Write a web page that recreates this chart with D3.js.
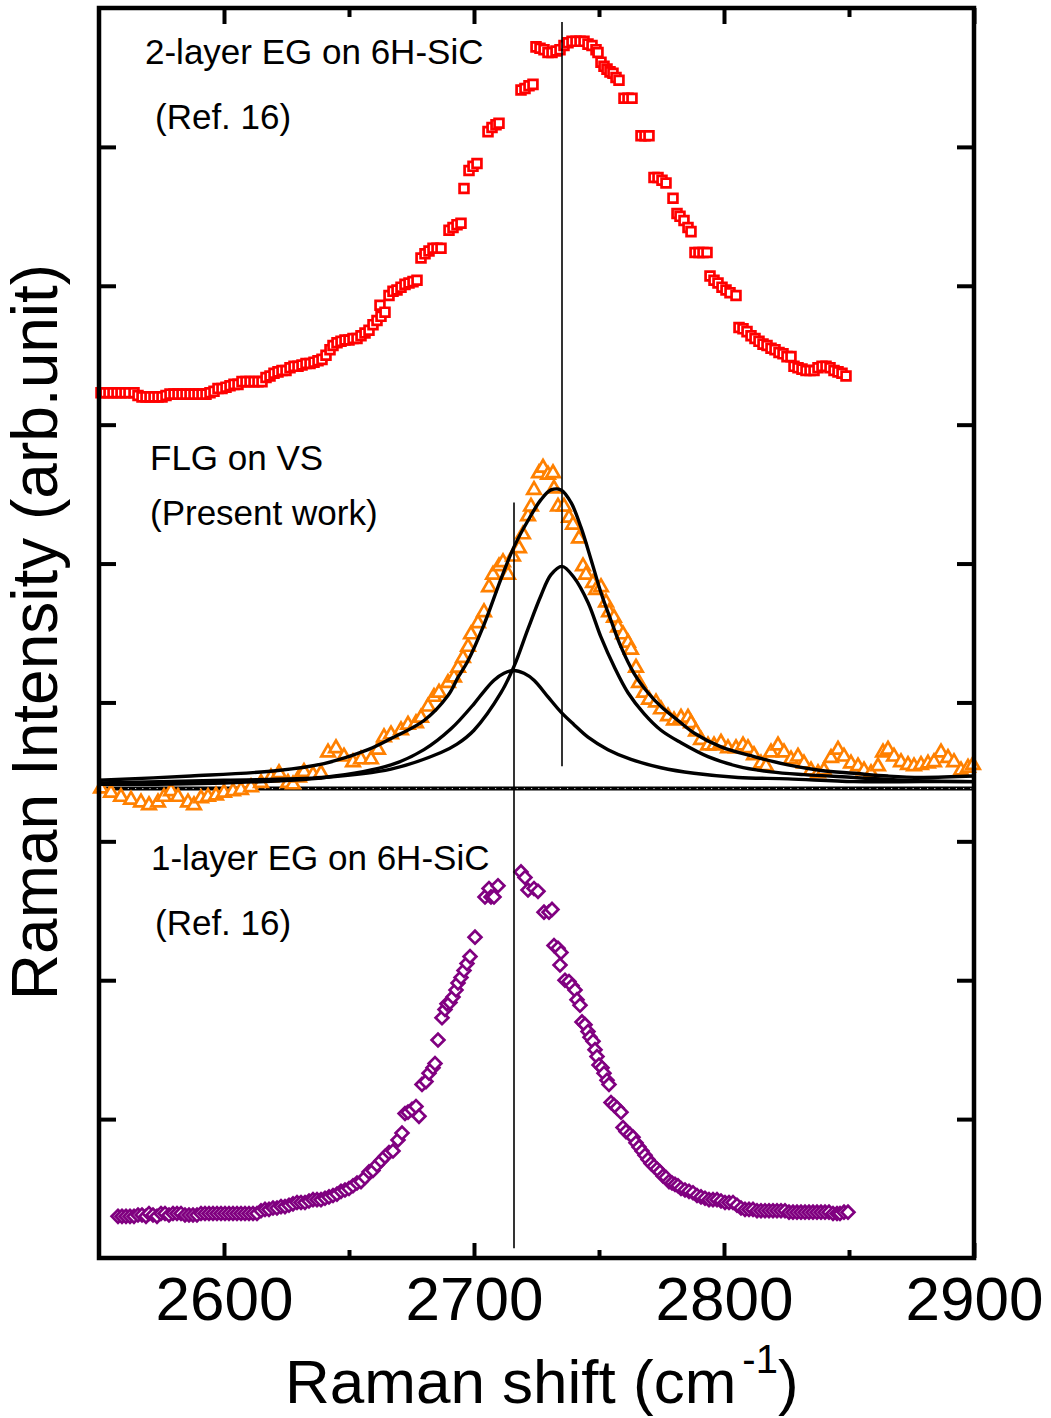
<!DOCTYPE html>
<meta charset="utf-8">
<style>
body { margin: 0; background: #fff; }
svg { display: block; background: #fff; }
text { font-family: "Liberation Sans", Arial, sans-serif; fill: #000; }
.frame { fill: none; stroke: #000; stroke-width: 4.5px; }
.fit { fill: none; stroke: #000; stroke-width: 3.4px; }
.vline { stroke: #000; stroke-width: 1.6px; }
.axis .domain { display: none; }
.axis line { stroke: #000; stroke-width: 4px; }
.axis text { font-size: 62px; font-family: "Liberation Sans", Arial, sans-serif; }
.label { font-size: 35px; }
</style>
<body>
<svg id="chart" width="1051" height="1418"></svg>

<script src="https://d3js.org/d3.v7.min.js"></script>
<script>

// ---------- data (Raman shift in cm-1, intensity in arb. units) ----------
var xMajor = [2600, 2700, 2800, 2900],
    xMinor = [2650, 2750, 2850],
    yTicks = [100, 200, 300, 400, 500, 600, 700, 800];

var labels = ["2-layer EG on 6H-SiC", "(Ref. 16)", "FLG on VS", "(Present work)", "1-layer EG on 6H-SiC", "(Ref. 16)"];

// 2-layer EG (red squares)
var bilayer = [[2550.8,623],[2552.4,623],[2554,623],[2555.6,623],[2557.2,623],[2558.8,623],[2560.4,623],[2562,623],[2564,623],
  [2565.6,621],[2567.2,620],[2568.8,620],[2570.4,620],[2572,620],[2573.6,620],[2575.2,620],[2576.8,621],[2578.4,622],[2580,622],
  [2581.6,622],[2583.2,622],[2584.8,622],[2586.4,622],[2588,622],[2589.6,622],[2591.2,622],[2592.8,622],[2594.4,623],[2596,624],
  [2597.6,626],[2599.2,626],[2600.8,627],[2602.4,628],[2604,629],[2605.6,629],[2607.2,631],[2608.8,631],[2610.4,631],[2612,631],
  [2613.6,631],[2615.2,631],[2616.8,634],[2618.4,635],[2620,637],[2621.6,638],[2623.2,639],[2624.8,639],[2626.4,641],[2628,642],
  [2629.6,642],[2631.2,643],[2632.8,644],[2634.4,644],[2636,645],[2637.6,646],[2639.2,647],[2640.8,650],[2642.4,654],[2643.6,657],
  [2645.2,659],[2646.8,660],[2648.4,661],[2650,661],[2651.6,662],[2653.2,662],[2654.8,664],[2656.4,666],[2658,668],[2659.6,672],
  [2661.2,675],[2662.4,686],[2662.8,678],[2664.4,681],[2666,693],[2667.6,696],[2669.2,697],[2670.8,699],[2672.4,701],[2674,702],
  [2675.6,703],[2677.2,704],[2678.8,720],[2680.4,723],[2682,725],[2683.6,727],[2685.2,727],[2686.8,727],[2690,740],[2691.6,742],
  [2693.2,744],[2694.8,745],[2696,770],[2698,783],[2699.6,786],[2701.2,788],[2705.6,811],[2707.2,814],[2708.8,816],[2710,817],
  [2718.8,841],[2720.4,842],[2722,844],[2723.6,845],[2724.8,872],[2726.4,871],[2728,870],[2729.6,868],[2731.2,868],[2732.8,869],
  [2734.4,870],[2736,873],[2737.6,875],[2739.2,876],[2740.8,876],[2742.4,876],[2744,876],[2745.6,874],[2747.2,873],[2748.8,870],
  [2749.6,868],[2750.8,861],[2752,858],[2753.2,856],[2754.4,854],[2755.6,853],[2756.8,850],[2758,848],[2760,835],[2761.6,835],
  [2763.2,835],[2766.8,808],[2768.4,808],[2770,808],[2772,778],[2773.6,778],[2775.2,776],[2776.8,774],[2779.6,763],[2781.2,752],
  [2782.4,750],[2784,747],[2785.6,742],[2786.8,739],[2788.4,724],[2790,724],[2791.6,724],[2793.2,724],[2794.4,707],[2796,704],
  [2797.6,702],[2799.2,699],[2800.8,697],[2802.4,695],[2804.8,693],[2806,670],[2807.6,669],[2809.2,667],[2810.8,664],[2812.4,662],
  [2814,660],[2815.6,658],[2817.2,657],[2818.8,655],[2820.4,654],[2822,652],[2823.6,651],[2825.2,649],[2826.8,649],[2828,642],
  [2829.6,641],[2831.2,640],[2832.8,639],[2834.4,639],[2836,639],[2837.6,641],[2839.2,642],[2840.8,642],[2842.4,641],[2844,639],
  [2845.6,638],[2847.2,637],[2848.8,635]];

// FLG on VS (orange triangles)
var flg = [[2550.8,338],[2554.8,335],[2558.8,332],[2562.8,330],[2566.8,328],[2570,326],[2573.6,328],[2576,332],[2578.8,336],
  [2581.6,332],[2585.6,328],[2588,326],[2590.8,331],[2593.6,332],[2596.8,333],[2600,335],[2603.6,336],[2606.8,337],[2610.8,339],
  [2614.8,342],[2618.8,346],[2622,349],[2625.6,342],[2627.6,341],[2630,346],[2632,350],[2635.6,348],[2638.8,349],[2641.6,364],
  [2644.8,367],[2648,361],[2651.6,357],[2654.8,359],[2658.8,359],[2661.6,366],[2664,375],[2666.8,377],[2670.8,380],[2673.6,384],
  [2676.8,385],[2678.8,389],[2681.6,397],[2684,404],[2686,407],[2689.6,414],[2692,418],[2693.6,425],[2695.6,432],[2697.6,440],
  [2698.8,449],[2701.6,457],[2704,465],[2706,483],[2707.6,492],[2710,498],[2711.6,501],[2713.6,492],[2715.6,505],[2718,511],
  [2719.6,521],[2721.6,534],[2722.8,541],[2724,553],[2726,565],[2727.6,569],[2729.6,564],[2731.6,565],[2732,554],[2733.6,541],
  [2736,541],[2738,533],[2739.6,528],[2742,518],[2743.6,498],[2744.8,492],[2747.6,486],[2748.8,481],[2750.8,483],[2752.8,472],
  [2754,465],[2756,461],[2757.6,454],[2759.6,449],[2761.6,443],[2762.8,438],[2764.8,425],[2766,414],[2768,407],[2770,402],
  [2772.8,400],[2774.8,395],[2777.6,390],[2780,387],[2782.8,389],[2785.6,389],[2786.8,385],[2788.8,379],[2790.8,373],[2793.6,369],
  [2796,369],[2798.8,371],[2801.6,367],[2804.8,367],[2807.6,369],[2809.6,367],[2812,362],[2814.8,356],[2816.8,354],[2818.8,364],
  [2821.6,369],[2824,364],[2826.8,359],[2829.6,361],[2832,356],[2834.8,351],[2837.6,349],[2840,351],[2842.8,360],[2845.6,366],
  [2848,361],[2850.8,356],[2853.6,354],[2856,351],[2858.8,349],[2861.6,354],[2863.6,364],[2865.6,366],[2868,361],[2870.8,357],
  [2873.6,355],[2876,354],[2878.8,355],[2881.6,356],[2884,357],[2886.8,364],[2889.6,360],[2892,357],[2894.8,351],[2897.6,353],
  [2899.6,355]];

// 1-layer EG (purple diamonds)
var monolayer = [[2557.6,30],[2559.2,30],[2560.8,30],[2562.4,30],[2564,30],[2565.6,31],[2567.2,31],[2568.8,30],[2570,32],
  [2571.6,31],[2573.2,30],[2574.8,32],[2576.4,32],[2578,31],[2579.6,32],[2581.2,32],[2582.8,32],[2584.4,31],[2586,31],[2587.6,31],
  [2589.2,31],[2590.8,32],[2592.4,32],[2594,32],[2595.6,32],[2597.2,32],[2598.8,32],[2600.4,32],[2602,32],[2603.6,32],[2605.2,32],
  [2606.8,32],[2608.4,32],[2610,32],[2611.6,32],[2613.2,32],[2614.8,34],[2616.4,35],[2618,35],[2619.6,36],[2621.2,36],[2622.8,37],
  [2624.4,37],[2626,38],[2627.6,39],[2629.2,40],[2630.8,40],[2632.4,40],[2634,41],[2635.6,42],[2637.2,42],[2638.8,42],[2640.4,43],
  [2642,44],[2643.6,45],[2645.2,46],[2646.8,48],[2648.4,49],[2650,50],[2651.6,52],[2653.2,54],[2654.8,55],[2656.4,58],[2658,62],
  [2659.6,63],[2661.2,67],[2662.8,70],[2664.4,73],[2666,76],[2667.6,77],[2669.6,85],[2671.2,90],[2672.4,104],[2673.6,105],
  [2675.2,107],[2676.8,109],[2678,102],[2679.2,125],[2680.8,127],[2682,133],[2683.6,137],[2684.4,140],[2685.6,157],[2687.2,173],
  [2688.4,179],[2689.2,183],[2690.4,184],[2691.6,188],[2692.8,193],[2693.6,198],[2694.8,202],[2696,207],[2697.2,212],[2698.4,217],
  [2700.4,231],[2704.4,260],[2706,266],[2706.8,260],[2708,260],[2709.6,268],
  [2718.8,278],[2720.4,274],[2721.6,265],[2724,266],[2725.6,264],[2728,249],[2730,249],[2731.2,251],[2732,225],[2733.6,223],
  [2734.8,220],[2734.4,211],[2736.4,200],[2738,199],[2739.2,196],[2740.4,193],[2741.2,186],[2742.4,182],[2743.2,170],[2744.4,168],
  [2745.6,163],[2746.4,159],[2747.6,156],[2748.4,150],[2749.2,145],[2750,139],[2751.2,137],[2752,133],[2753.2,128],[2754,125],
  [2754.8,112],[2756,110],[2757.2,108],[2758.8,105],[2759.6,94],[2760.8,91],[2762.4,89],[2763.6,87],[2764.8,83],[2766,80],
  [2767.2,77],[2768.4,74],[2769.6,71],[2770.8,68],[2772,66],[2773.2,64],[2774.4,62],[2775.6,59],[2776.8,58],[2778,55],[2779.2,54],
  [2780.4,53],[2781.6,52],[2782.8,50],[2784.4,49],[2786,48],[2787.6,47],[2789.2,45],[2790.8,44],[2792.4,43],[2794,42],[2795.6,42],
  [2797.2,42],[2798.8,41],[2800.4,40],[2802,40],[2803.6,40],[2805.2,38],[2806.8,36],[2808.4,35],[2810,35],[2811.6,35],[2813.2,34],
  [2814.8,34],[2816.4,34],[2818,34],[2819.6,34],[2821.2,34],[2822.8,34],[2824.4,34],[2826,33],[2827.6,33],[2829.2,33],[2830.8,33],
  [2832.4,33],[2834,33],[2835.6,33],[2837.2,33],[2838.8,33],[2840.4,33],[2842,33],[2843.6,32],[2845.2,32],[2846.4,32],[2848,33],
  [2849.6,33]];

// Lorentzian fit of the FLG band: two components, their sum and the baseline
var fitLow = [[2550,341],[2600,342],[2640,346],[2666.8,355],[2680,366],[2690.8,381],[2700,399],[2704,408],[2708,416],[2712,421],
  [2716,423],[2720,421],[2724,416],[2729.6,404],[2734.8,393],[2740,384],[2745.6,375],[2753.6,366],[2762.8,359],[2774.8,353],
  [2788,349],[2805.6,346],[2825.6,345],[2852,343],[2878.8,343],[2900,343]];
var fitHigh = [[2550,342],[2600,344],[2640,346],[2666.8,352],[2686.8,364],[2693.2,370],[2700,380],[2710.8,407],[2716,426],[2721.6,453],
  [2726.8,477],[2730.8,492],[2735.2,498],[2740,490],[2745.6,472],[2750.8,447],[2756,426],[2761.6,407],[2768,392],[2774.8,380],
  [2782.8,371],[2793.6,361],[2805.6,354],[2818.8,350],[2832,348],[2852,346],[2872,344],[2900,343]];
var fitSum = [[2550,344],[2586.8,347],[2621.6,351],[2640,356],[2657.6,366],[2666.8,374],[2680,387],[2689.6,405],[2693.6,418],
  [2697.6,430],[2704,456],[2710.8,489],[2716,512],[2721.6,531],[2726.8,546],[2730.8,553],[2734.8,553],[2738.8,544],[2742.8,526],
  [2746.8,503],[2750.8,479],[2754.8,459],[2758.8,440],[2764,421],[2769.6,407],[2774.8,397],[2781.6,387],[2788,378],[2798.8,368],
  [2812,361],[2825.6,355],[2838.8,351],[2852,349],[2865.6,347],[2878.8,346],[2900,347]];
var baseline = 338;

// peak position markers
var peakX = [2735.2, 2716],
    peakTop = [890, 544],
    peakBottom = [354, 7];

// ---------- chart ----------
var svg = d3.select("#chart");
var x = d3.scaleLinear().domain([2550, 2900]).range([99, 974]);
var y = d3.scaleLinear().domain([0, 900]).range([1258, 8]);

var line = d3.line()
    .x(function(d) { return x(d[0]); })
    .y(function(d) { return y(d[1]); })
    .curve(d3.curveCatmullRom.alpha(0.5));

// axes: inward ticks on all four sides
svg.append("g").attr("class", "axis")
    .attr("transform", "translate(0," + y(0) + ")")
    .call(d3.axisBottom(x).tickValues(xMajor).tickSize(-15).tickPadding(18).tickFormat(d3.format("d")));
svg.append("g").attr("class", "axis")
    .attr("transform", "translate(0," + y(0) + ")")
    .call(d3.axisBottom(x).tickValues(xMinor).tickSize(-8).tickFormat(""));
svg.append("g").attr("class", "axis")
    .attr("transform", "translate(0," + y(900) + ")")
    .call(d3.axisTop(x).tickValues(xMajor).tickSize(-16).tickFormat(""));
svg.append("g").attr("class", "axis")
    .attr("transform", "translate(0," + y(900) + ")")
    .call(d3.axisTop(x).tickValues(xMinor).tickSize(-9).tickFormat(""));
svg.append("g").attr("class", "axis")
    .attr("transform", "translate(" + x(2550) + ",0)")
    .call(d3.axisLeft(y).tickValues(yTicks).tickSize(-17).tickFormat(""));
svg.append("g").attr("class", "axis")
    .attr("transform", "translate(" + x(2900) + ",0)")
    .call(d3.axisRight(y).tickValues(yTicks).tickSize(-17).tickFormat(""));

// baseline of the fit (dense dotted line)
svg.append("line")
    .attr("x1", x(2550)).attr("x2", x(2900))
    .attr("y1", y(baseline)).attr("y2", y(baseline))
    .attr("stroke", "#000").attr("stroke-width", 4);
svg.append("line")
    .attr("x1", x(2550)).attr("x2", x(2900))
    .attr("y1", y(baseline)).attr("y2", y(baseline))
    .attr("stroke", "#fff").attr("stroke-width", 0.8)
    .attr("stroke-dasharray", "1.2 6");

function drawMarkers(data, type, size, color, rot) {
  var sym = d3.symbol().type(type).size(size)();
  svg.append("g").selectAll("path")
    .data(data)
    .join("path")
      .attr("d", sym)
      .attr("transform", function(d) { return "translate(" + x(d[0]) + "," + y(d[1]) + ")" + (rot ? " rotate(45)" : ""); })
      .attr("fill", "#fff")
      .attr("stroke", color)
      .attr("stroke-width", 2.7);
}

drawMarkers(bilayer, d3.symbolSquare, 78, "#ff0000", false);
drawMarkers(flg, d3.symbolTriangle, 78, "#ff8000", false);
drawMarkers(monolayer, d3.symbolSquare, 82, "#800080", true);

[fitLow, fitHigh, fitSum].forEach(function(c) {
  svg.append("path").datum(c).attr("class", "fit").attr("d", line);
});

peakX.forEach(function(p, i) {
  svg.append("line").attr("class", "vline")
    .attr("x1", x(p)).attr("x2", x(p))
    .attr("y1", y(peakTop[i])).attr("y2", y(peakBottom[i]));
});

// frame
svg.append("rect").attr("class", "frame")
    .attr("x", x(2550)).attr("y", y(900))
    .attr("width", x(2900) - x(2550)).attr("height", y(0) - y(900));

// annotations
var labelPos = [[145, 64], [155, 129], [150, 470], [150, 525], [151, 870], [155, 935]];
labels.forEach(function(t, i) {
  svg.append("text").attr("class", "label")
      .attr("x", labelPos[i][0]).attr("y", labelPos[i][1])
      .text(t);
});

// axis titles
svg.append("text")
    .attr("transform", "translate(57," + 632 + ") rotate(-90)")
    .attr("text-anchor", "middle")
    .style("font-size", "64px")
    .text("Raman Intensity (arb.unit)");

var xt = svg.append("text")
    .attr("x", 285).attr("y", 1403)
    .style("font-size", "62px");
xt.append("tspan").text("Raman shift (cm");
xt.append("tspan").attr("dx", 6).attr("dy", -30).style("font-size", "40px").text("-1");
xt.append("tspan").attr("dy", 30).text(")");

</script>
</body>
</html>
